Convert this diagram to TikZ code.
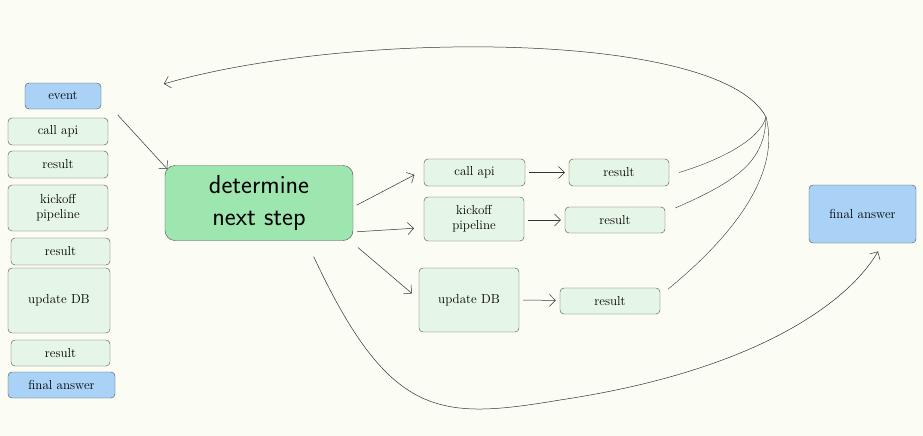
\documentclass[tikz,border=0pt]{standalone}
\usepackage{fontspec}
\usetikzlibrary{arrows.meta}
\definecolor{bg}{HTML}{FBFCF3}
\definecolor{boxf}{HTML}{E6F6E6}
\definecolor{bluef}{HTML}{A9D2F6}
\definecolor{greenf}{HTML}{9EE6B0}
\begin{document}
\begin{tikzpicture}[x=1pt,y=-1pt,
  box/.style={draw=black!70,fill=boxf,rounded corners=4pt,align=center,inner sep=0pt,font=\fontsize{13}{15}\selectfont},
  blue/.style={box,fill=bluef},
  arr/.style={-{Straight Barb[length=6pt]},black!80,line width=0.5pt,shorten >=4pt,shorten <=4pt}]
\fill[bg] (0,0) rectangle (923,436);
\useasboundingbox (0,0) rectangle (923,436);
\newcommand\bx[6]{\node[#1,minimum width=#4-#2,minimum height=#5-#3] (#6) at ({(#2+#4)/2},{(#3+#5)/2})}
\bx{blue}{25}{83}{101}{109}{ev}{event};
\bx{box}{8}{118}{108}{145}{l1}{call api};
\bx{box}{8}{151}{108}{178}{l2}{result};
\bx{box}{8}{185}{108}{231}{l3}{kickoff\\pipeline};
\bx{box}{11}{238}{110}{265}{l4}{result};
\bx{box}{8}{268}{110}{333}{l5}{update DB};
\bx{box}{11}{340}{110}{366}{l6}{result};
\bx{blue}{8}{372}{115}{398}{l7}{final answer};
\node[box,fill=greenf,rounded corners=10pt,minimum width=188,minimum height=75,font=\fontsize{26}{32}\selectfont\sffamily] (d) at (259,203) {determine\\next step};
\bx{box}{424}{159}{525}{186}{c}{call api};
\bx{box}{569}{159}{669}{186}{r1}{result};
\bx{box}{424}{197}{524}{241}{k}{kickoff\\pipeline};
\bx{box}{565}{207}{665}{233}{r2}{result};
\bx{box}{419}{268}{519}{332}{u}{update DB};
\bx{box}{560}{288}{660}{314}{r3}{result};
\bx{blue}{809}{185}{916}{243}{fa}{final answer};
\coordinate (j) at (766,117);
\coordinate (t) at (160,85);
\draw[arr] (115,112) -- (170,172);
\draw[arr] (d.east|-0,207) -- (418,173);
\draw[arr] (d.east|-0,232) -- (418,228);
\draw[arr] (355,245) -- (415,296);
\draw[arr] (c) -- (r1);
\draw[arr] (k.east|-0,220) -- (r2);
\draw[arr] (u.east|-0,300) -- (r3);
\draw[black!80] (r1.east) ++(10,0) .. controls (720,160) and (760,140) .. (j);
\draw[black!80] (r2.east) ++(10,-12) .. controls (740,180) and (765,160) .. (j);
\draw[black!80] (r3.east) ++(8,-12) .. controls (740,230) and (780,170) .. (j);
\draw[arr,shorten <=0pt] (j) .. controls (720,30) and (350,30) .. (t);
\draw[arr] (312,253) .. controls (390,420) and (440,420) .. (560,400) .. controls (760,370) and (850,300) .. (880,248);
\end{tikzpicture}
\end{document}
